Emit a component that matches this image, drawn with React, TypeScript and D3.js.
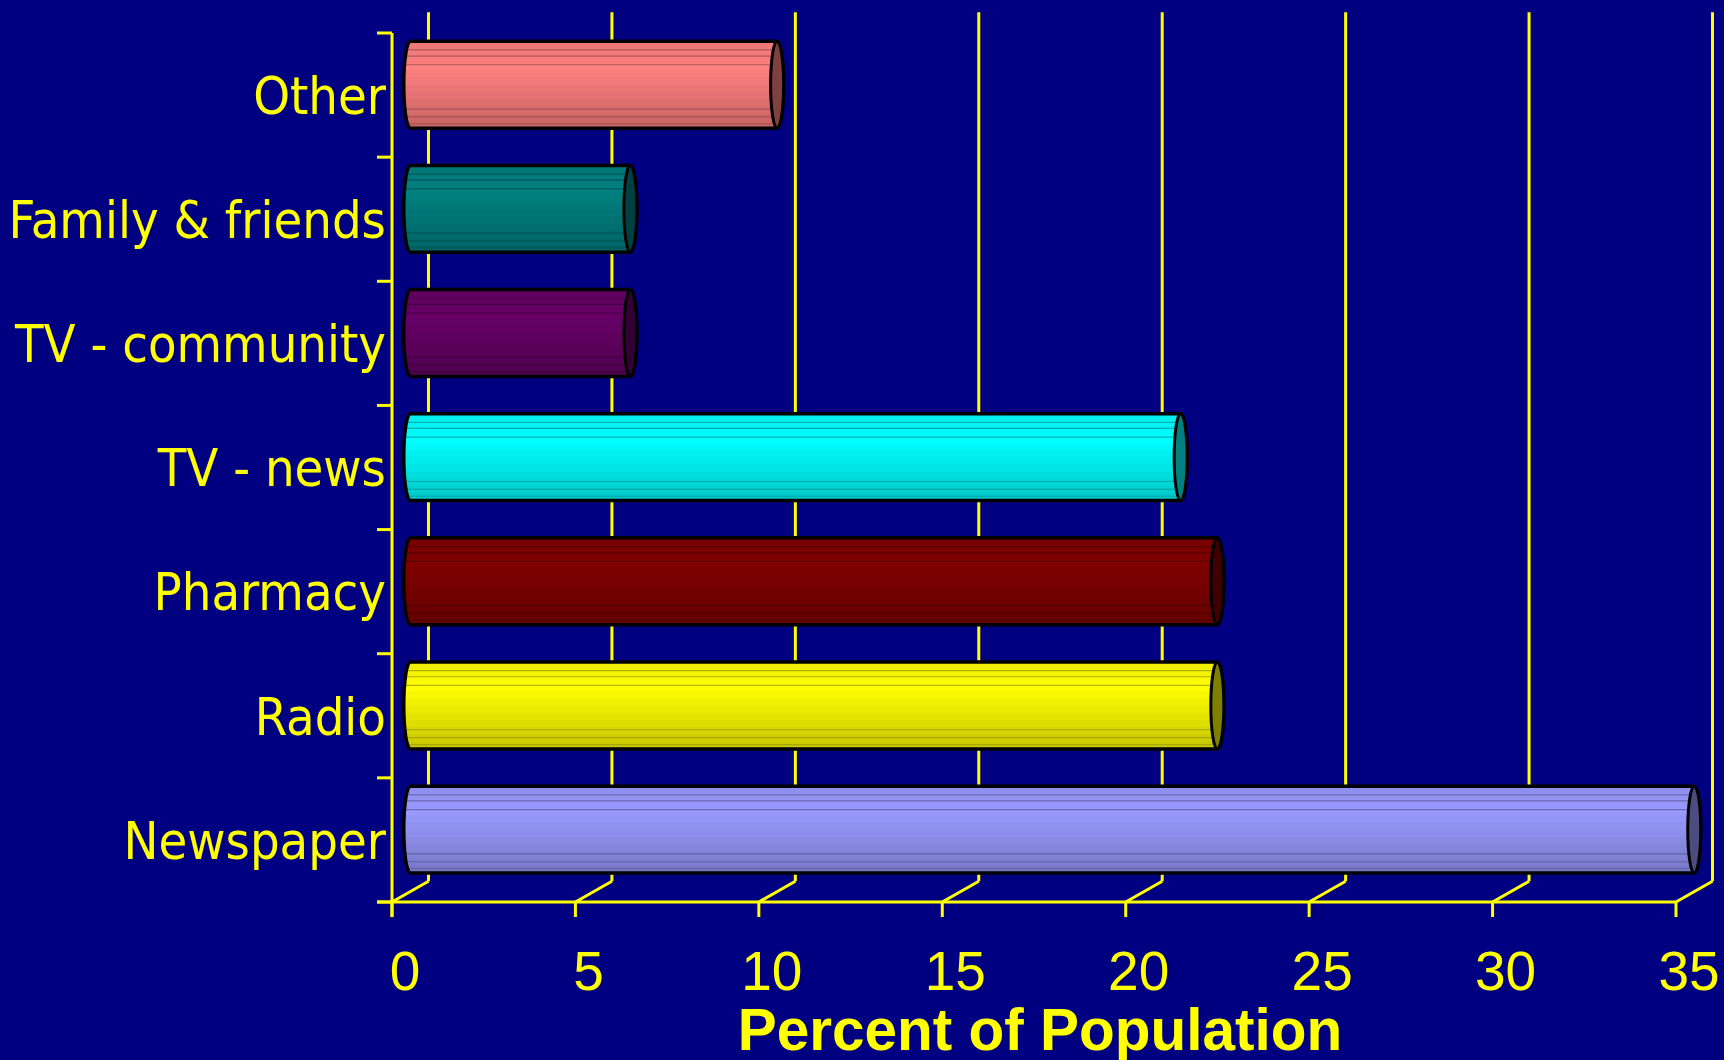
import React from 'react';
import * as d3 from 'd3';

// categories top -> bottom, values in percent
const categories = ['Other', 'Family & friends', 'TV - community', 'TV - news', 'Pharmacy', 'Radio', 'Newspaper'];
const values = [10, 6, 6, 21, 22, 22, 35];
const barColors = ['#FF8080', '#008080', '#660066', '#00FFFF', '#800000', '#FFFF00', '#9999FF'];
const capColors = ['#804040', '#004040', '#330033', '#008080', '#400000', '#808000', '#4C4C80'];
const xTicks = [0, 5, 10, 15, 20, 25, 30, 35];
const xTitle = 'Percent of Population';

const W = 1724, H = 1060;
const yellow = '#FFFF00';
const depthX = 36.5, depthY = -20.7;

function shade(c: string, k: number) {
  const col = d3.rgb(c);
  return d3.rgb(col.r * k, col.g * k, col.b * k).formatHex();
}

export default function App() {
  const x = d3.scaleLinear().domain([0, 35]).range([392, 1676]);
  const y = d3.scaleBand().domain(categories).range([33, 902]).paddingInner(0.3).paddingOuter(0.15);
  const step = y.step();
  const top = 33, base = 902;
  const rx = 6.5;
  const midX = depthX / 2, midY = depthY / 2;
  const bandEdges = d3.range(categories.length + 1).map(i => top + i * step);

  return (
    <svg width={W} height={H} style={{ position: 'absolute', left: 0, top: 0, display: 'block' }}>
      <defs>
        {barColors.map((c, i) => {
          const n = 12;
          const stops = [];
          for (let k = 0; k < n; k++) {
            const f = k / n;
            const lev = f < 0.25 ? 1 - (0.25 - f) * 0.25 : 1 - (f - 0.25) * 0.32;
            const col = shade(c, lev);
            stops.push(<stop key={k + 'a'} offset={f} stopColor={col} />);
            stops.push(<stop key={k + 'b'} offset={(k + 1) / n} stopColor={col} />);
          }
          return (
            <linearGradient key={i} id={'g' + i} x1="0" y1="0" x2="0" y2="1">
              {stops}
            </linearGradient>
          );
        })}
      </defs>
      <rect width={W} height={H} fill="#000080" />

      {/* back gridlines + floor diagonals */}
      {xTicks.map(t => (
        <g key={'grid' + t}>
          <line x1={x(t) + depthX} x2={x(t) + depthX} y1={top + depthY} y2={base + depthY} stroke={yellow} strokeWidth={3} />
          <line x1={x(t)} y1={base} x2={x(t) + depthX} y2={base + depthY} stroke={yellow} strokeWidth={3} />
          <line x1={x(t)} x2={x(t)} y1={base} y2={base + 15} stroke={yellow} strokeWidth={3} />
        </g>
      ))}

      {/* front axes */}
      <line x1={x(0)} x2={x(0)} y1={top} y2={base + 15} stroke={yellow} strokeWidth={3} />
      <line x1={x(0) - 15} x2={x(35)} y1={base} y2={base} stroke={yellow} strokeWidth={3} />
      {bandEdges.map((e, i) => (
        <line key={'yt' + i} x1={x(0) - 15} x2={x(0)} y1={e} y2={e} stroke={yellow} strokeWidth={3} />
      ))}

      {/* cylinders */}
      {categories.map((c, i) => {
        const y0 = (y(c) as number) + midY;
        const h = y.bandwidth();
        const ry = h / 2;
        const xl = x(0) + midX;
        const xr = x(values[i]) + midX;
        const d = `M${xl},${y0} H${xr} A${rx},${ry} 0 0 1 ${xr},${y0 + h} H${xl} A${rx},${ry} 0 0 1 ${xl},${y0} Z`;
        const lineFr = [0.1, 0.17, 0.27, 0.78, 0.87, 0.95];
        return (
          <g key={c}>
            <path d={d} fill={`url(#g${i})`} />
            {lineFr.map(f => (
              <line key={f} x1={xl - rx + 2} x2={xr} y1={y0 + f * h} y2={y0 + f * h}
                stroke={shade(barColors[i], 0.62)} strokeWidth={1.2} opacity={0.8} />
            ))}
            <path d={d} fill="none" stroke="#000" strokeWidth={3.5} strokeLinejoin="round" />
            <ellipse cx={xr} cy={y0 + ry} rx={rx} ry={ry} fill={capColors[i]} stroke="#000" strokeWidth={3} />
          </g>
        );
      })}

      {/* category labels */}
      {categories.map(c => (
        <text key={'lab' + c} x={386} y={(y(c) as number) + y.bandwidth() / 2} dy="0.36em" textAnchor="end"
          fill={yellow} fontSize={52} style={{ fontFamily: "'DejaVu Sans Condensed', 'DejaVu Sans', sans-serif", fontStretch: 'condensed' }}>
          {c}
        </text>
      ))}

      {/* tick labels */}
      {xTicks.map(t => (
        <text key={'tl' + t} x={x(t) + 13} y={990} textAnchor="middle" fill={yellow} fontSize={55}
          style={{ fontFamily: "'Liberation Sans', Arial, sans-serif" }}>
          {t}
        </text>
      ))}

      <text x={1040} y={1050} textAnchor="middle" fill={yellow} fontSize={58.5} fontWeight="bold"
        style={{ fontFamily: "'Liberation Sans', Arial, sans-serif" }}>
        {xTitle}
      </text>
    </svg>
  );
}
